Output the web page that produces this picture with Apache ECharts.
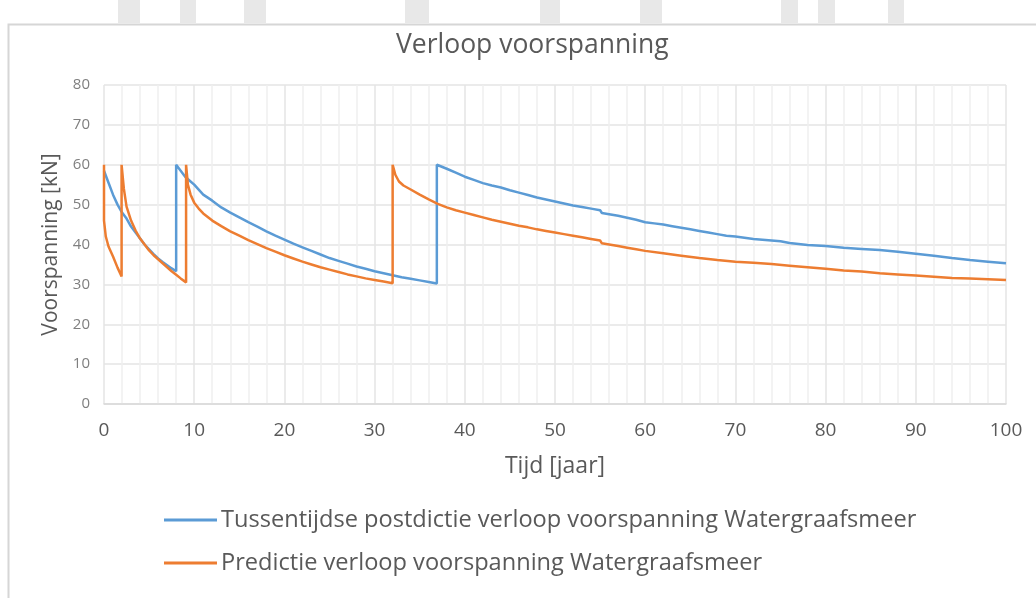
<!DOCTYPE html>
<html>
<head>
<meta charset="utf-8">
<script src="https://cdn.jsdelivr.net/npm/echarts@6/dist/echarts.min.js"></script>
<style>
  html, body { margin: 0; padding: 0; background: #fff; }
  #chart { width: 1036px; height: 598px; }
</style>
</head>
<body>
<div id="chart"></div>
<script>
// assen
let yTicks = [0, 10, 20, 30, 40, 50, 60, 70, 80];
let xTicks = [0, 10, 20, 30, 40, 50, 60, 70, 80, 90, 100];

let seriesNames = [
    'Tussentijdse postdictie verloop voorspanning Watergraafsmeer',
    'Predictie verloop voorspanning Watergraafsmeer'
];

// blauw: [tijd, voorspanning]
let postdictie = [
    [0, 58.5], [0.5, 55.5], [1, 52.5], [1.5, 50], [2, 48], [2.5, 46.5], [3, 44.5], [3.5, 43],
    [4, 41.5], [4.5, 40], [5, 38.8], [5.5, 37.6], [6, 36.5], [6.5, 35.6], [7, 34.8], [7.5, 34],
    [8, 33.3], [8, 60],
    [8.5, 58.5], [9, 57], [9.5, 56], [10, 55], [11, 52.5], [12, 51], [13, 49.3], [14, 48],
    [15, 46.8], [16, 45.6], [17, 44.5], [18, 43.3], [19, 42.2], [20, 41.2], [21, 40.2], [22, 39.3],
    [23, 38.4], [24, 37.5], [25, 36.6], [26, 35.9], [27, 35.2], [28, 34.5], [29, 33.9], [30, 33.3],
    [31, 32.8], [32, 32.3], [33, 31.8], [34, 31.4], [35, 31], [36, 30.6], [36.9, 30.2], [36.9, 60],
    [38, 59], [39, 58], [40, 57], [41, 56.2], [42, 55.4], [43, 54.8], [44, 54.3], [45, 53.6],
    [46, 53], [47, 52.4], [48, 51.8], [49, 51.3], [50, 50.8], [51, 50.3], [52, 49.8], [53, 49.4],
    [54, 49], [55, 48.6], [55.2, 47.9], [56, 47.6], [57, 47.2], [58, 46.7], [59, 46.2], [60, 45.6],
    [61, 45.3], [62, 45], [63, 44.6], [64, 44.2], [65, 43.8], [66, 43.4], [67, 43], [68, 42.6],
    [69, 42.2], [70, 42], [72, 41.4], [74, 41], [75, 40.8], [76, 40.4], [78, 39.9], [80, 39.6],
    [82, 39.2], [84, 38.9], [86, 38.6], [88, 38.2], [90, 37.7], [92, 37.2], [94, 36.6], [96, 36.1],
    [98, 35.7], [100, 35.3]
];

// oranje: [tijd, voorspanning]
let predictie = [
    [0, 60], [0, 46], [0.2, 42], [0.5, 39.5], [1, 37], [1.5, 34.2], [1.95, 32], [1.95, 60],
    [2.2, 54], [2.5, 49.5], [3, 46], [3.5, 43.5], [4, 41.5], [4.5, 40], [5, 38.5], [5.5, 37.3],
    [6, 36.3], [6.5, 35.3], [7, 34.3], [7.5, 33.3], [8, 32.4], [8.5, 31.5], [9.1, 30.5], [9.1, 60],
    [9.3, 55], [9.6, 52.5], [10, 50.5], [10.5, 49], [11, 47.8], [12, 46], [13, 44.6], [14, 43.3],
    [15, 42.2], [16, 41.1], [17, 40.1], [18, 39.1], [19, 38.2], [20, 37.3], [21, 36.5], [22, 35.7],
    [23, 35], [24, 34.3], [25, 33.7], [26, 33.1], [27, 32.5], [28, 32], [29, 31.5], [30, 31.1],
    [31, 30.7], [32, 30.3], [32, 60],
    [32.3, 57.5], [32.7, 55.8], [33.2, 54.8], [34, 53.8], [35, 52.5], [36, 51.3], [37, 50.2],
    [38, 49.3], [39, 48.6], [40, 48], [41, 47.4], [42, 46.8], [43, 46.2], [44, 45.7], [45, 45.2],
    [46, 44.7], [47, 44.3], [48, 43.8], [49, 43.4], [50, 43], [51, 42.6], [52, 42.2], [53, 41.8],
    [54, 41.4], [55, 41], [55.2, 40.3], [56, 40], [57, 39.6], [58, 39.2], [59, 38.8], [60, 38.4],
    [62, 37.8], [64, 37.2], [66, 36.6], [68, 36.1], [70, 35.7], [72, 35.4], [74, 35.1], [76, 34.7],
    [78, 34.3], [80, 33.9], [82, 33.5], [84, 33.2], [86, 32.8], [88, 32.5], [90, 32.2], [92, 31.9],
    [94, 31.6], [96, 31.5], [98, 31.3], [100, 31.1]
];

let chart = echarts.init(document.getElementById('chart'));
let font = 'Open Sans';
let grey = '#595959';

// grijze blokken bovenin (afgesneden watermerk)
let watermark = [[118, 22], [180, 16], [244, 22], [405, 24], [540, 20], [640, 22], [781, 17], [818, 17], [888, 16]];

let option = {
    animation: false,
    backgroundColor: '#fff',
    textStyle: { fontFamily: font },
    title: {
        text: 'Verloop voorspanning',
        left: 391,
        top: 27,
        textStyle: { fontFamily: font, fontSize: 26.5, fontWeight: 'normal', color: grey }
    },
    graphic: watermark.map(w => ({
        type: 'rect',
        shape: { x: w[0], y: 0, width: w[1], height: 23 },
        style: { fill: '#e8e8e8' },
        silent: true
    })).concat([{
        type: 'polyline',
        shape: { points: [[8.5, 600], [8.5, 24.5], [1040, 24.5]] },
        style: { stroke: '#d6d6d6', lineWidth: 2, fill: null },
        silent: true
    }]),
    legend: {
        orient: 'vertical',
        left: 159,
        top: 503,
        itemWidth: 53,
        itemHeight: 3,
        itemGap: 19,
        icon: 'rect',
        data: seriesNames,
        textStyle: { fontFamily: font, fontSize: 23.6, color: grey, padding: [0, 0, 0, -1] }
    },
    grid: { left: 104, right: 30, top: 85, bottom: 194, containLabel: false },
    xAxis: {
        type: 'value',
        min: xTicks[0],
        max: xTicks[xTicks.length - 1],
        interval: 10,
        name: 'Tijd [jaar]',
        nameLocation: 'middle',
        nameGap: 51,
        nameTextStyle: { fontFamily: font, fontSize: 23, color: grey },
        axisLine: { show: true, lineStyle: { color: '#d9d9d9', width: 1.5 } },
        axisTick: { show: false },
        axisLabel: { margin: 17, fontSize: 19, color: grey, fontFamily: font },
        splitLine: { show: true, lineStyle: { color: '#e4e4e4', width: 1.5 } },
        minorTick: { show: false, splitNumber: 5 },
        minorSplitLine: { show: true, lineStyle: { color: '#f0f0f0', width: 1.5 } }
    },
    yAxis: {
        type: 'value',
        min: yTicks[0],
        max: yTicks[yTicks.length - 1],
        interval: 10,
        name: 'Voorspanning [kN]',
        nameLocation: 'middle',
        nameGap: 41,
        nameTextStyle: { fontFamily: font, fontSize: 21, color: grey },
        axisLine: { show: false },
        axisTick: { show: false },
        axisLabel: { margin: 14, fontSize: 15, color: '#7f7f7f', fontFamily: font },
        splitLine: { show: true, lineStyle: { color: '#e4e4e4', width: 1.5 } }
    },
    series: [
        {
            name: seriesNames[0],
            type: 'line',
            data: postdictie,
            showSymbol: false,
            smooth: false,
            color: '#5B9BD5',
            lineStyle: { width: 2.5, color: '#5B9BD5' },
            z: 3
        },
        {
            name: seriesNames[1],
            type: 'line',
            data: predictie,
            showSymbol: false,
            smooth: false,
            color: '#ED7D31',
            lineStyle: { width: 2.5, color: '#ED7D31' },
            z: 4
        }
    ]
};

chart.setOption(option);
</script>
</body>
</html>
